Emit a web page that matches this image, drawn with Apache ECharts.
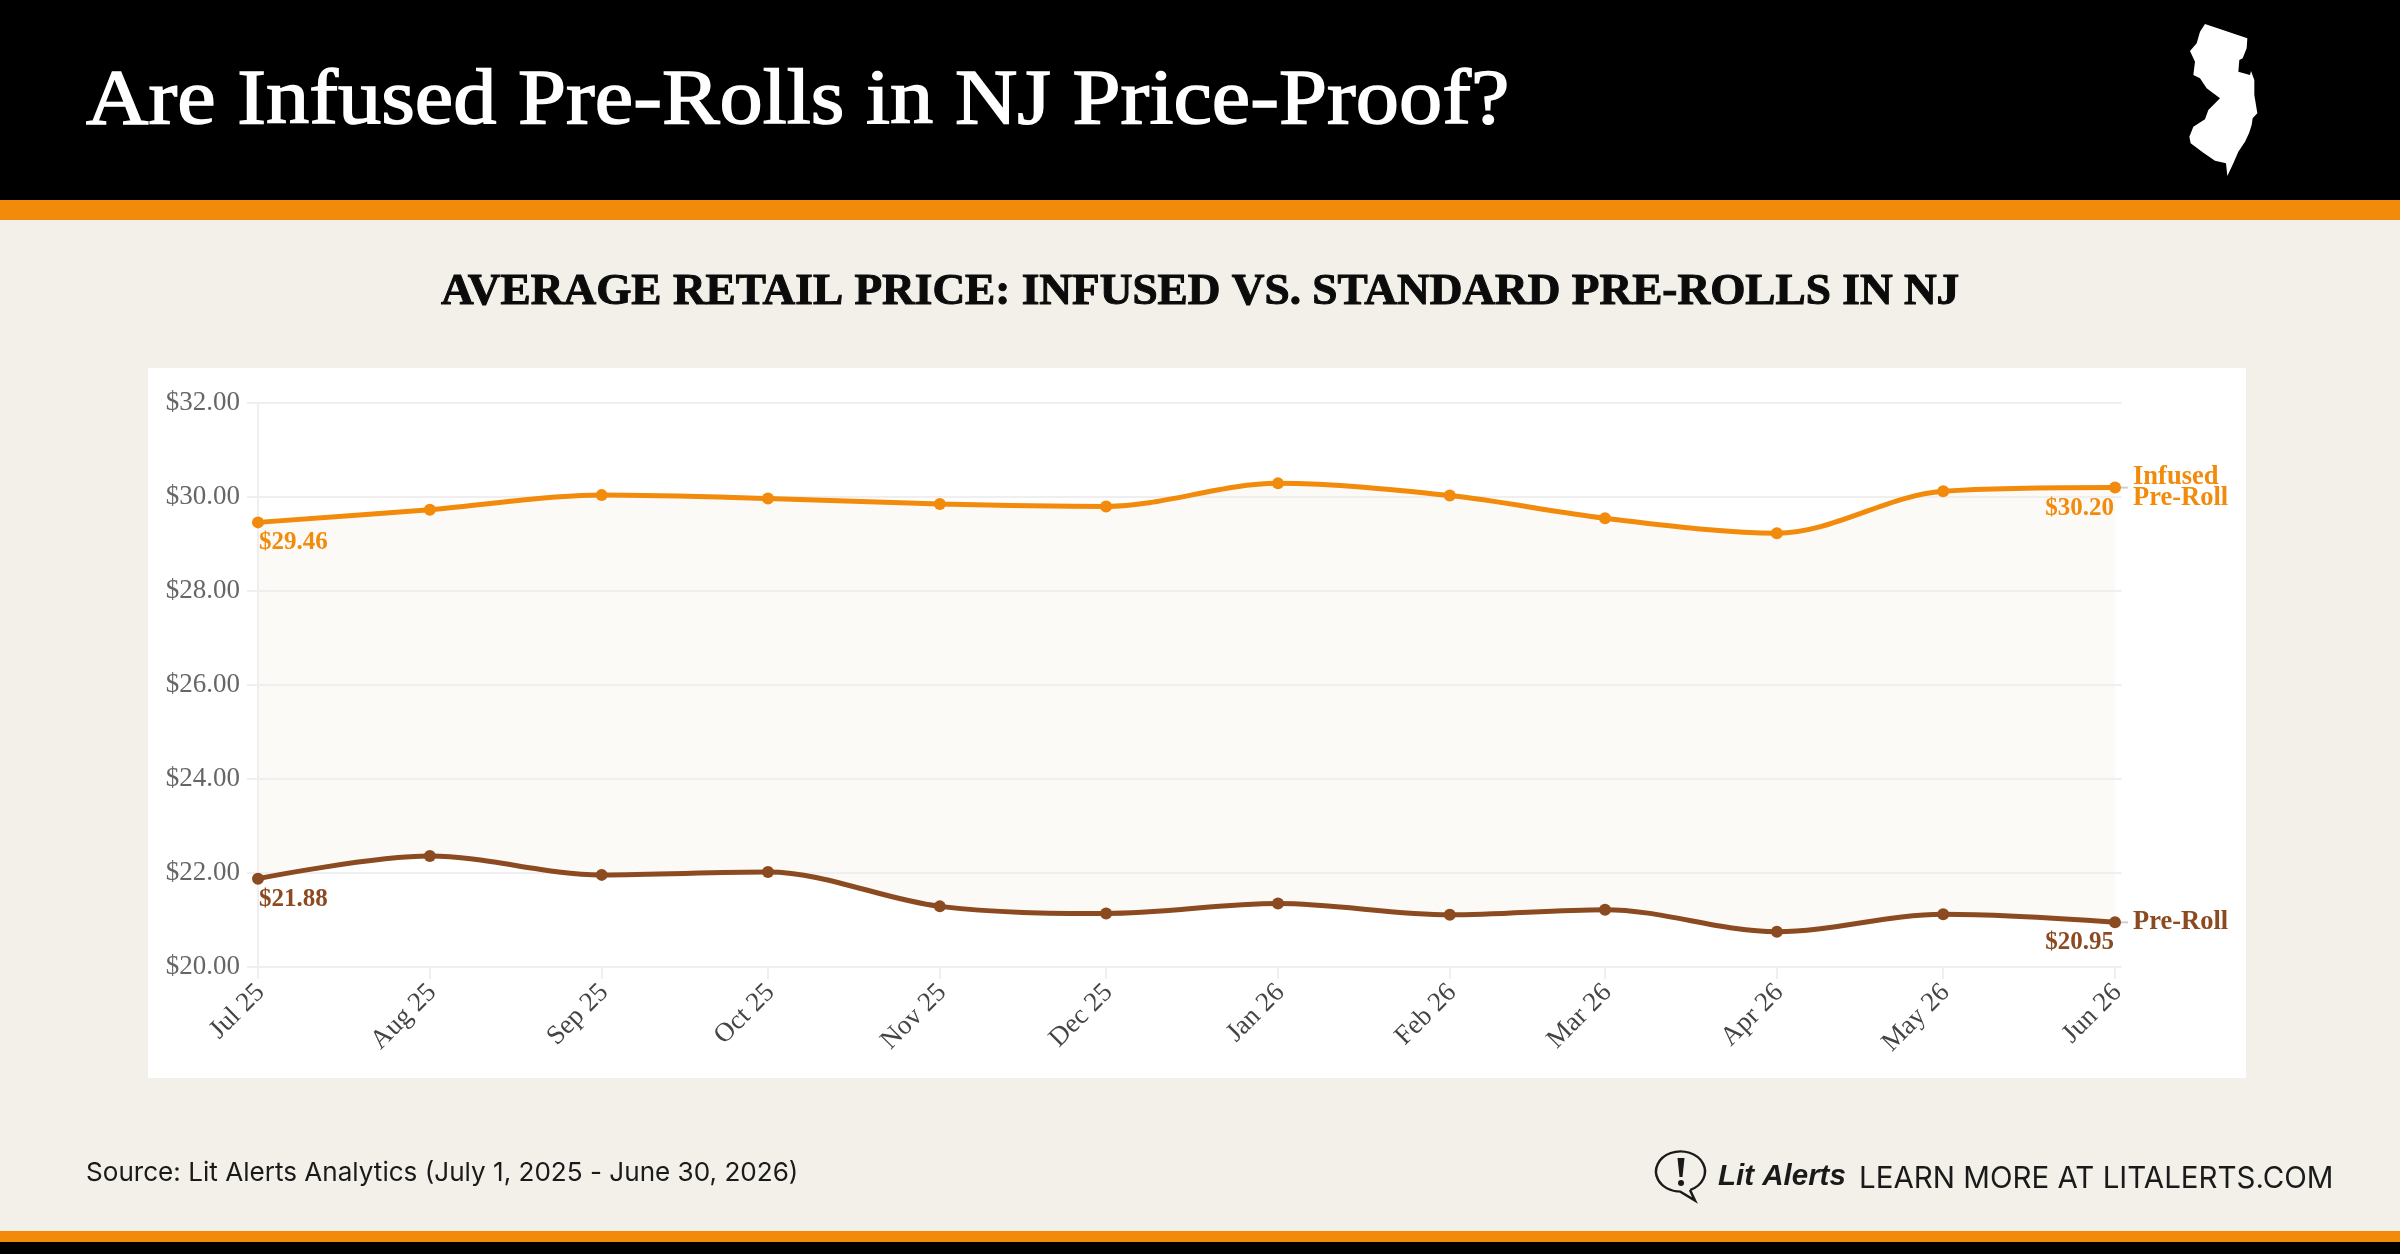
<!DOCTYPE html>
<html>
<head>
<meta charset="utf-8">
<title>Are Infused Pre-Rolls in NJ Price-Proof?</title>
<script src="https://cdn.jsdelivr.net/npm/echarts@6/dist/echarts.min.js"></script>
<style>
  html, body { margin: 0; padding: 0; background: #f3f0e9; }
  #page { position: relative; width: 2400px; height: 1254px; overflow: hidden; }
  .block { position: absolute; left: 0; width: 2400px; }
  #chart { position: absolute; left: 0; top: 0; width: 2400px; height: 1254px; }
  /* The plot panel is slightly softer than the surrounding page */
  #soften { position: absolute; left: 148px; top: 368px; width: 2098px; height: 710px;
            backdrop-filter: blur(0.6px); pointer-events: none; }
</style>
</head>
<body>
<div id="page">
  <div class="block" style="top:0;height:200px;background:#000"></div>
  <div class="block" style="top:200px;height:20px;background:#f28a0b"></div>
  <div class="block" style="top:1231px;height:11px;background:#f28a0b"></div>
  <div class="block" style="top:1242px;height:12px;background:#000"></div>
  <div style="position:absolute;left:148px;top:368px;width:2098px;height:710px;background:#fff"></div>
  <div id="chart"></div>
  <div id="soften"></div>
</div>
<script>
// Monthly average retail prices in USD
const months = ['2025-07-01', '2025-08-01', '2025-09-01', '2025-10-01', '2025-11-01', '2025-12-01',
                '2026-01-01', '2026-02-01', '2026-03-01', '2026-04-01', '2026-05-01', '2026-06-01'];
const monthLabels = ['Jul 25', 'Aug 25', 'Sep 25', 'Oct 25', 'Nov 25', 'Dec 25',
                     'Jan 26', 'Feb 26', 'Mar 26', 'Apr 26', 'May 26', 'Jun 26'];
const infused = [29.46, 29.73, 30.04, 29.97, 29.85, 29.80, 30.29, 30.03, 29.55, 29.23, 30.12, 30.20];
const preRoll = [21.88, 22.36, 21.96, 22.02, 21.29, 21.14, 21.35, 21.11, 21.22, 20.75, 21.12, 20.95];

const ORANGE = '#f28a0b';
const BROWN = '#8c4a20';
const GRID = '#efefef';
const SERIF = '"Liberation Serif", serif';
const SMOOTH = 0.33;

const times = months.map(d => Date.parse(d + 'T00:00:00Z'));
const labelByTime = new Map(times.map((t, i) => [t, monthLabels[i]]));
const DAY = 86400000;

const pairs = values => values.map((v, i) => [times[i], v]);

// Only the first and last points of each line carry a price label
const withEndLabels = (values, color) => values.map((v, i) => {
  const first = i === 0, last = i === values.length - 1;
  if (!first && !last) return { value: [times[i], v] };
  return {
    value: [times[i], v],
    label: {
      show: true,
      position: 'bottom',
      distance: 2,
      align: first ? 'left' : 'right',
      offset: first ? [1, 0] : [-1, 0],
      formatter: '$' + v.toFixed(2),
      color: color,
      fontFamily: SERIF,
      fontWeight: 'bold',
      fontSize: 25
    }
  };
});

const priceLine = (name, values, color, endText) => ({
  name: name,
  type: 'line',
  z: 3,
  smooth: SMOOTH,
  showSymbol: true,
  showAllSymbol: true,
  symbol: 'circle',
  symbolSize: 12,
  lineStyle: { color: color, width: 5 },
  itemStyle: { color: color },
  data: withEndLabels(values, color),
  endLabel: {
    show: true,
    distance: 18,
    formatter: endText,
    color: color,
    fontFamily: SERIF,
    fontWeight: 'bold',
    fontSize: 26.5,
    lineHeight: 21
  }
});

// Flat fill under a line; layered so only the band between the two lines stays tinted
const underFill = (name, values, color) => ({
  name: name,
  type: 'line',
  z: 0,
  silent: true,
  smooth: SMOOTH,
  showSymbol: false,
  lineStyle: { width: 0, opacity: 0 },
  areaStyle: { color: color, opacity: 1, origin: 'start' },
  data: pairs(values)
});

// Short grey stub between a line's last point and its name
const stubSeries = {
  type: 'custom',
  z: 2,
  silent: true,
  data: [pairs(infused)[infused.length - 1], pairs(preRoll)[preRoll.length - 1]],
  renderItem: (params, api) => {
    const p = api.coord([api.value(0), api.value(1)]);
    return {
      type: 'line',
      shape: { x1: p[0] + 6, y1: p[1], x2: p[0] + 13, y2: p[1] },
      style: { stroke: '#cfcfcf', lineWidth: 2 }
    };
  }
};

const NJ_OUTLINE = [[165,42],[292,85],[290,115],[278,145],[268,150],[265,185],[300,195],[303,183],[313,210],
  [313,255],[322,310],[308,325],[305,345],[297,370],[285,395],[265,425],[250,460],[232,498],[228,460],[195,452],
  [160,428],[122,400],[118,380],[130,350],[165,328],[175,300],[210,265],[170,235],[150,205],[130,195],[135,155],
  [120,123],[140,100],[150,65]];

const text = (x, y, str, font, fill, scaleX, strokeWidth) => ({
  type: 'text', x: x, y: y, scaleX: scaleX || 1, silent: true,
  style: { text: str, font: font, fill: fill, stroke: strokeWidth ? fill : null, lineWidth: strokeWidth || 0 }
});

const chart = echarts.init(document.getElementById('chart'), null, { renderer: 'canvas' });
chart.setOption({
  animation: false,
  backgroundColor: 'transparent',
  grid: { left: 258, top: 403, width: 1863.5, height: 564, containLabel: false },
  xAxis: {
    type: 'value',
    z: 1,
    min: times[0],
    max: times[times.length - 1] + 1.17 * DAY,
    axisLine: { show: false },
    splitLine: { show: false },
    axisTick: { show: true, customValues: times, length: 12, lineStyle: { color: GRID, width: 2 } },
    axisLabel: {
      customValues: times,
      rotate: 45,
      margin: 19,
      hideOverlap: false,
      formatter: v => '{month|' + (labelByTime.get(v) || '') + '}',
      rich: {
        month: { padding: [7, 0, 0, 0], color: '#444', fontFamily: SERIF, fontSize: 27 }
      }
    }
  },
  yAxis: {
    type: 'value',
    z: 1,
    min: 20,
    max: 32,
    interval: 2,
    axisLine: { show: true, lineStyle: { color: GRID, width: 2 } },
    axisTick: { show: true, length: 11, lineStyle: { color: GRID, width: 2 } },
    splitLine: { show: true, lineStyle: { color: GRID, width: 2 } },
    axisLabel: {
      margin: 18,
      color: '#666',
      fontFamily: SERIF,
      fontSize: 27,
      formatter: v => '$' + v.toFixed(2)
    }
  },
  series: [
    underFill('Infused fill', infused, '#fbfaf6'),
    underFill('Pre-Roll fill', preRoll, '#ffffff'),
    stubSeries,
    priceLine('Infused Pre-Roll', infused, ORANGE, 'Infused\nPre-Roll'),
    priceLine('Pre-Roll', preRoll, BROWN, 'Pre-Roll')
  ],
  graphic: [
    text(86, 63, 'Are Infused Pre-Rolls in NJ Price-Proof?', '79px "Liberation Serif", serif', '#fff', 1.094, 1.5),
    text(441, 271, 'AVERAGE RETAIL PRICE: INFUSED VS. STANDARD PRE-ROLLS IN NJ', 'bold 44px "Liberation Serif", serif', '#0b0b0b', 1.029, 1),
    text(86, 1160, 'Source: Lit Alerts Analytics (July 1, 2025 - June 30, 2026)', '26.1px Inter, sans-serif', '#1a1a1a'),
    text(1718, 1162, 'Lit Alerts', 'italic bold 29.5px "Liberation Sans", sans-serif', '#1a1a1a'),
    text(1859, 1164, 'LEARN MORE AT LITALERTS.COM', '29.5px Inter, sans-serif', '#1a1a1a'),
    {
      type: 'polygon', silent: true, x: 2150, y: 10, scaleX: 1 / 3, scaleY: 1 / 3,
      shape: { points: NJ_OUTLINE }, style: { fill: '#fff' }
    },
    // Speech-bubble mark beside the brand name
    {
      type: 'arc', silent: true, x: 1680.5, y: 1171.5, scaleX: 1, scaleY: 0.82,
      shape: { cx: 0, cy: 0, r: 24.5, startAngle: Math.PI * 0.37, endAngle: Math.PI * 0.5, clockwise: false },
      style: { fill: 'none', stroke: '#1a1a1a', lineWidth: 2.5 }
    },
    {
      type: 'polyline', silent: true,
      shape: { points: [[1680, 1191.5], [1695, 1200.6], [1690, 1190]] },
      style: { fill: 'none', stroke: '#1a1a1a', lineWidth: 2.5 }
    },
    {
      type: 'polygon', silent: true,
      shape: { points: [[1677.5, 1158], [1684.5, 1158], [1682.5, 1177], [1679.5, 1177]] },
      style: { fill: '#1a1a1a' }
    },
    {
      type: 'circle', silent: true,
      shape: { cx: 1681, cy: 1183, r: 3 },
      style: { fill: '#1a1a1a' }
    }
  ]
});
</script>
</body>
</html>
